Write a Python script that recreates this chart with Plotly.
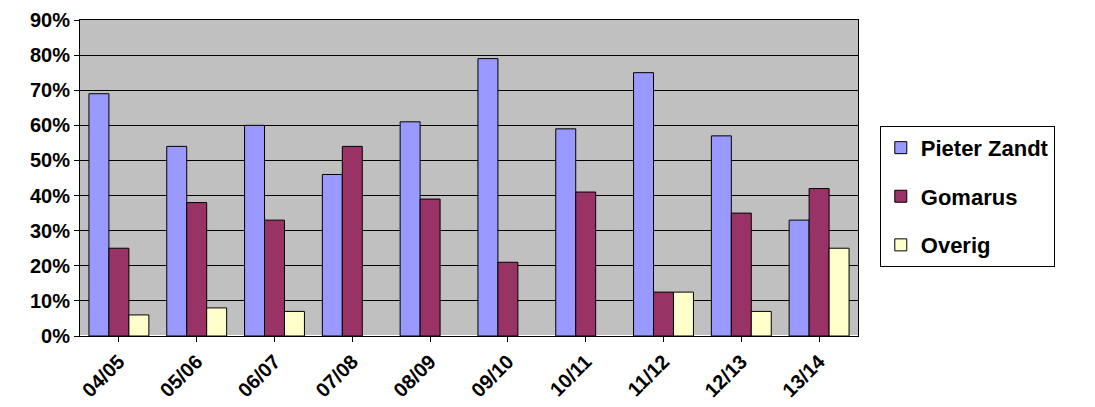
import plotly.graph_objects as go

seasons = ["04/05", "05/06", "06/07", "07/08", "08/09", "09/10", "10/11", "11/12", "12/13", "13/14"]
pieter_zandt = [0.69, 0.54, 0.60, 0.46, 0.61, 0.79, 0.59, 0.75, 0.57, 0.33]
gomarus = [0.25, 0.38, 0.33, 0.54, 0.39, 0.21, 0.41, 0.125, 0.35, 0.42]
overig = [0.06, 0.08, 0.07, None, None, None, None, 0.125, 0.07, 0.25]

fig = go.Figure()
for name, vals, col in [("Pieter Zandt", pieter_zandt, "#9999FF"),
                        ("Gomarus", gomarus, "#993366"),
                        ("Overig", overig, "#FFFFCC")]:
    fig.add_trace(go.Bar(x=seasons, y=vals, name=name, legendgroup=name,
                         marker=dict(color=col, line=dict(color="black", width=1))))

bold = dict(family="Arial, Liberation Sans", size=20, color="black", weight="bold")
fig.update_layout(
    width=1095, height=407,
    margin=dict(l=72, r=245, t=12, b=79, autoexpand=False),
    barmode="group", bargap=0.23, bargroupgap=0,
    plot_bgcolor="#C0C0C0", paper_bgcolor="white",
    font=bold,
    xaxis=dict(tickangle=-45, tickfont=bold, automargin=False,
               showline=True, linecolor="black", mirror=True, ticks="outside", ticklen=5, tickcolor="black"),
    yaxis=dict(range=[0, 0.9], dtick=0.1, tickformat=".0%", gridcolor="black", gridwidth=1,
               tickfont=bold, automargin=False,
               showline=True, linecolor="black", mirror=True, ticks="outside", ticklen=5, tickcolor="black"),
    legend=dict(x=1.028, y=0.665, xanchor="left", yanchor="top", bordercolor="black", borderwidth=1,
                font=dict(bold, size=22), traceorder="grouped", tracegroupgap=17, itemwidth=30,
                entrywidth=175, entrywidthmode="pixels"),
)
fig.write_html("out.html")
